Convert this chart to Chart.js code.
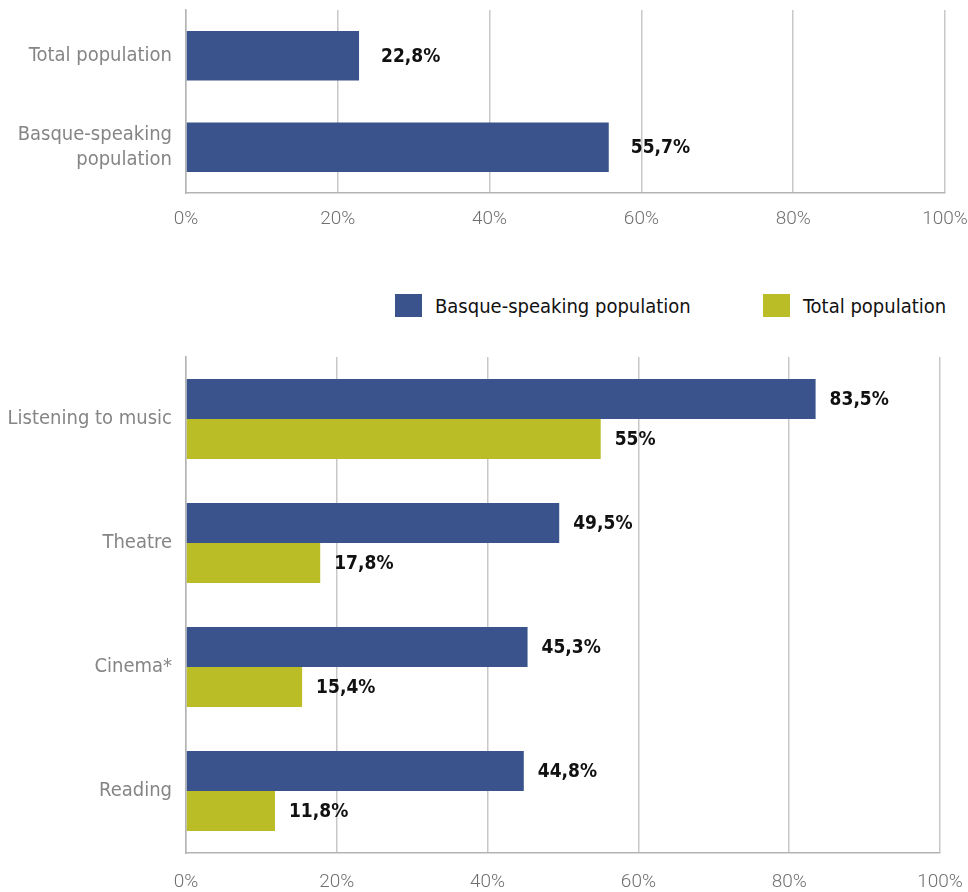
<!DOCTYPE html>
<html>
<head>
<meta charset="UTF-8">
<script src="https://cdn.jsdelivr.net/npm/chart.js"></script>
<style>
  body { margin: 0; background: #fff; }
  #wrap { position: relative; width: 968px; height: 892px; }
  #top { position: absolute; left: 0; top: 0; }
  #bottom { position: absolute; left: 0; top: 330px; }
  .leg { position: absolute; top: 294px; height: 23px; font-family: "Liberation Sans Narrow", "DejaVu Sans Condensed", sans-serif;
         font-size: 20px; color: #111; display: flex; align-items: center; }
  .leg span.box { display: inline-block; width: 27px; height: 23px; margin-right: 13px; }
</style>
</head>
<body>
<div id="wrap">
  <canvas id="top" width="968" height="240"></canvas>
  <div class="leg" style="left:395px"><span class="box" style="background:#3a538c"></span>Basque-speaking population</div>
  <div class="leg" style="left:763px"><span class="box" style="background:#bbbd26"></span>Total population</div>
  <canvas id="bottom" width="968" height="562"></canvas>
</div>
<script>
const topCats = ['Total population', ['Basque-speaking', 'population']];
const topValues = [22.8, 55.7];

const activities = ['Listening to music', 'Theatre', 'Cinema*', 'Reading'];
const basqueSpeaking = [83.5, 49.5, 45.3, 44.8];
const totalPop = [55, 17.8, 15.4, 11.8];

const xTicks = [0, 20, 40, 60, 80, 100];

const BLUE = '#3a538c';
const OLIVE = '#bbbd26';
const narrow = '"Liberation Sans Narrow", "DejaVu Sans Condensed", sans-serif';

Chart.defaults.animation = false;
Chart.defaults.responsive = false;

function fmt(v) {
  return String(v).replace('.', ',') + '%';
}

// draws the numbers just right of each bar
function valueLabels(gap) {
  return {
    id: 'valueLabels',
    afterDatasetsDraw(chart) {
      const ctx = chart.ctx;
      ctx.save();
      ctx.font = 'bold 19px ' + narrow;
      ctx.fillStyle = '#111';
      ctx.textBaseline = 'middle';
      chart.data.datasets.forEach((ds, i) => {
        chart.getDatasetMeta(i).data.forEach((bar, j) => {
          ctx.fillText(fmt(ds.data[j]), bar.x + gap, bar.y + 1);
        });
      });
      ctx.restore();
    }
  };
}

function xScale(padTop, axisH) {
  return {
    min: 0, max: 100,
    afterBuildTicks: s => { s.ticks = xTicks.map(v => ({ value: v })); },
    afterFit: s => { s.height = axisH; s.paddingLeft = 0; s.paddingRight = 0; },
    grid: { color: '#c8c8c8', lineWidth: 1.5, drawTicks: false },
    border: { color: '#b4b4b4', width: 1.5 },
    ticks: {
      padding: padTop,
      color: '#707070',
      font: { family: 'Roboto', weight: 300, size: 19 },
      callback: v => v + '%'
    }
  };
}

function yScale() {
  return {
    afterFit: s => { s.width = 186; s.paddingTop = 0; s.paddingBottom = 0; },
    grid: { display: false, drawTicks: false },
    border: { color: '#b4b4b4', width: 1.5 },
    ticks: {
      padding: 14,
      color: '#858585',
      font: { family: narrow, size: 20, lineHeight: 1.25 }
    }
  };
}

new Chart(document.getElementById('top'), {
  type: 'bar',
  data: {
    labels: topCats,
    datasets: [{
      data: topValues,
      backgroundColor: BLUE,
      categoryPercentage: 1,
      barPercentage: 0.54
    }]
  },
  options: {
    indexAxis: 'y',
    layout: { padding: { top: 10, right: 23, left: 0, bottom: 0 } },
    plugins: { legend: { display: false }, tooltip: { enabled: false } },
    scales: { x: xScale(15, 47), y: yScale() }
  },
  plugins: [valueLabels(22)]
});

new Chart(document.getElementById('bottom'), {
  type: 'bar',
  data: {
    labels: activities,
    datasets: [
      { label: 'Basque-speaking population', data: basqueSpeaking, backgroundColor: BLUE,
        categoryPercentage: 0.645, barPercentage: 1 },
      { label: 'Total population', data: totalPop, backgroundColor: OLIVE,
        categoryPercentage: 0.645, barPercentage: 1 }
    ]
  },
  options: {
    indexAxis: 'y',
    layout: { padding: { top: 27, right: 28, left: 0, bottom: 0 } },
    plugins: { legend: { display: false }, tooltip: { enabled: false } },
    scales: { x: xScale(18, 39), y: yScale() }
  },
  plugins: [valueLabels(14)]
});
</script>
</body>
</html>
